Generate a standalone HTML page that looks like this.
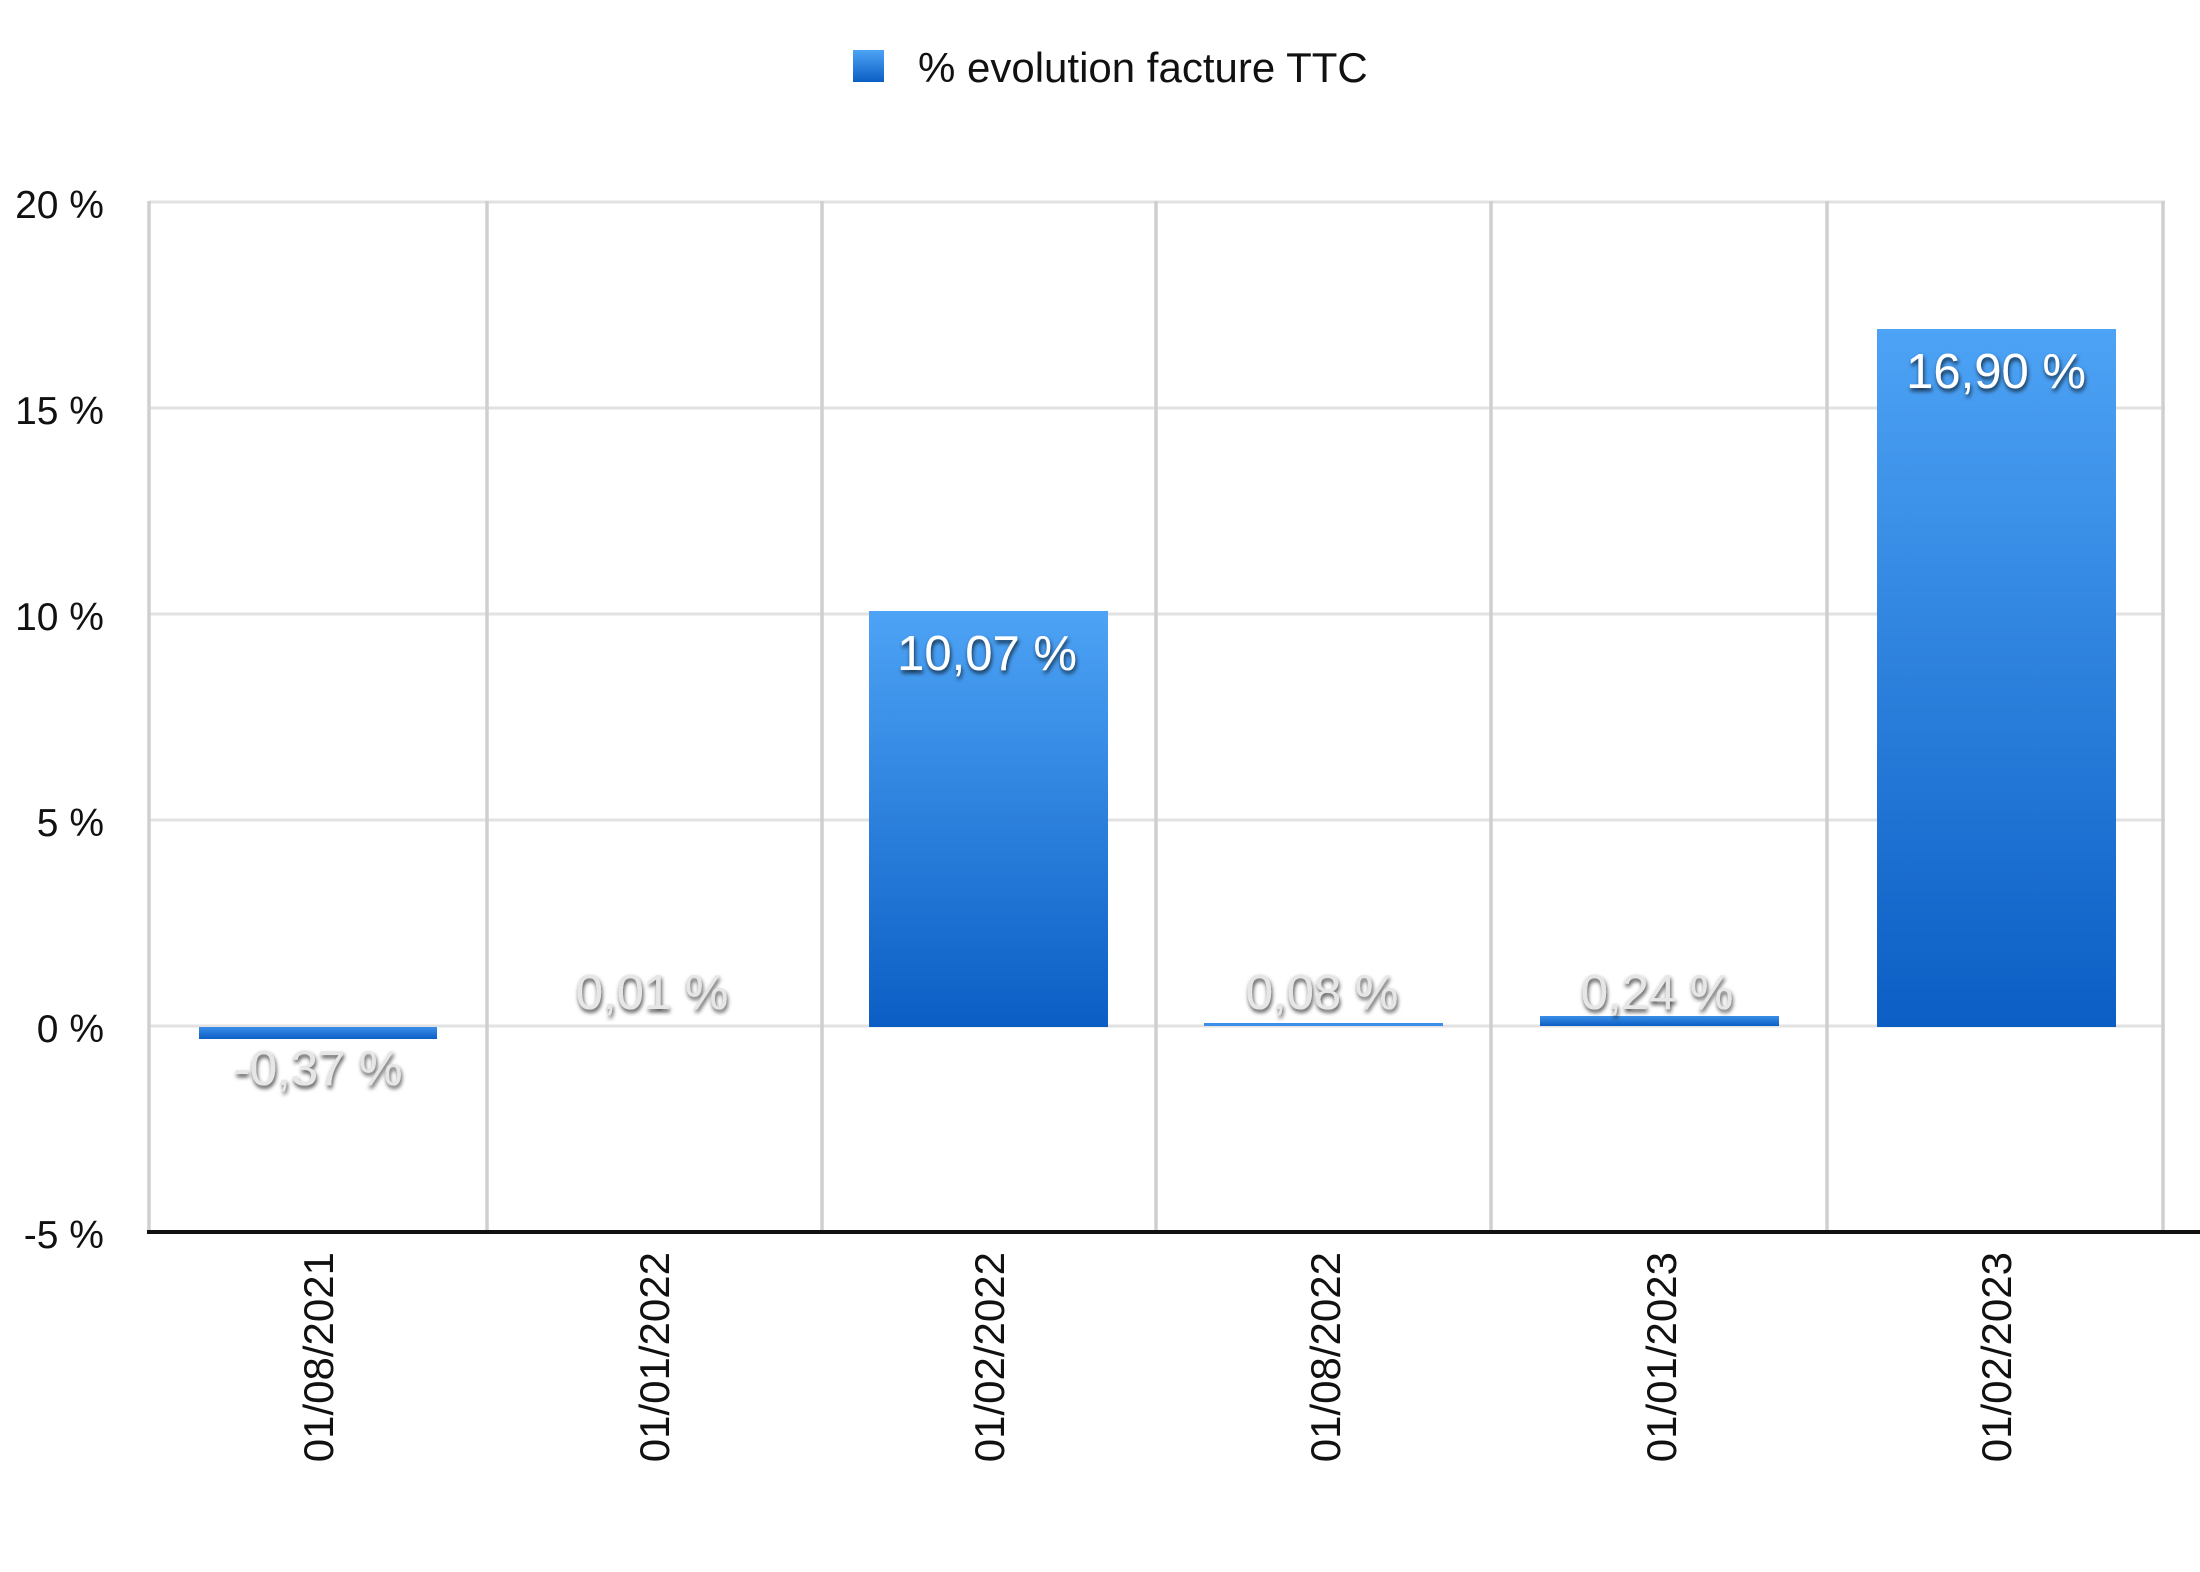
<!DOCTYPE html>
<html><head><meta charset="utf-8"><style>
html,body{margin:0;padding:0;background:#fff;}
svg{display:block;font-family:"Liberation Sans",Arial,sans-serif;}
</style></head><body>
<svg width="2200" height="1572" viewBox="0 0 2200 1572" xmlns="http://www.w3.org/2000/svg">
<defs>
<linearGradient id="g" x1="0" y1="0" x2="0" y2="1">
<stop offset="0" stop-color="#4da3f5"/><stop offset="1" stop-color="#0b5ec4"/>
</linearGradient>
<linearGradient id="gs" x1="0" y1="0" x2="0" y2="1">
<stop offset="0" stop-color="#3b8fe8"/><stop offset="1" stop-color="#0b5ec4"/>
</linearGradient>
<filter id="sh" x="-10%" y="-30%" width="120%" height="160%">
<feDropShadow dx="1" dy="3" stdDeviation="2" flood-color="#000" flood-opacity="0.75"/>
</filter>
</defs>
<rect x="853" y="50" width="31" height="32" fill="url(#g)"/>
<text x="918" y="82" font-size="42" fill="#111">% evolution facture TTC</text>
<g stroke="#e2e2e2" stroke-width="3">
<line x1="149" y1="202" x2="2165" y2="202"/>
<line x1="149" y1="408" x2="2165" y2="408"/>
<line x1="149" y1="614" x2="2165" y2="614"/>
<line x1="149" y1="820" x2="2165" y2="820"/>
<line x1="149" y1="1026" x2="2165" y2="1026"/>
</g>
<g stroke="#cfcfcf" stroke-width="3.5">
<line x1="149" y1="201" x2="149" y2="1232"/>
<line x1="487" y1="201" x2="487" y2="1232"/>
<line x1="822" y1="201" x2="822" y2="1232"/>
<line x1="1156" y1="201" x2="1156" y2="1232"/>
<line x1="1491" y1="201" x2="1491" y2="1232"/>
<line x1="1827" y1="201" x2="1827" y2="1232"/>
<line x1="2163" y1="201" x2="2163" y2="1232"/>
</g>
<line x1="147" y1="1232" x2="2200" y2="1232" stroke="#111" stroke-width="4"/>
<g font-size="39" fill="#111" text-anchor="end">
<text x="104" y="218">20 %</text>
<text x="104" y="424">15 %</text>
<text x="104" y="630">10 %</text>
<text x="104" y="836">5 %</text>
<text x="104" y="1042">0 %</text>
<text x="104" y="1248">-5 %</text>
</g>
<rect x="199" y="1027" width="238" height="12" fill="url(#gs)"/>
<rect x="869" y="611" width="239" height="416" fill="url(#g)"/>
<rect x="1204" y="1023" width="239" height="3" fill="#3b8fe8"/>
<rect x="1540" y="1016" width="239" height="10" fill="url(#gs)"/>
<rect x="1877" y="329" width="239" height="698" fill="url(#g)"/>
<g font-size="49" text-anchor="middle" filter="url(#sh)">
<text x="987" y="670" fill="#fff">10,07 %</text>
<text x="1996" y="388" fill="#fff">16,90 %</text>
<text x="318" y="1085" fill="#e6e6e6">-0,37 %</text>
<text x="652" y="1009" fill="#e6e6e6">0,01 %</text>
<text x="1322" y="1009" fill="#e6e6e6">0,08 %</text>
<text x="1657" y="1009" fill="#e6e6e6">0,24 %</text>
</g>
<g font-size="42" fill="#111" text-anchor="end">
<text transform="translate(333,1252) rotate(-90)">01/08/2021</text>
<text transform="translate(669,1252) rotate(-90)">01/01/2022</text>
<text transform="translate(1004,1252) rotate(-90)">01/02/2022</text>
<text transform="translate(1340,1252) rotate(-90)">01/08/2022</text>
<text transform="translate(1676,1252) rotate(-90)">01/01/2023</text>
<text transform="translate(2011,1252) rotate(-90)">01/02/2023</text>
</g>
</svg>
</body></html>
